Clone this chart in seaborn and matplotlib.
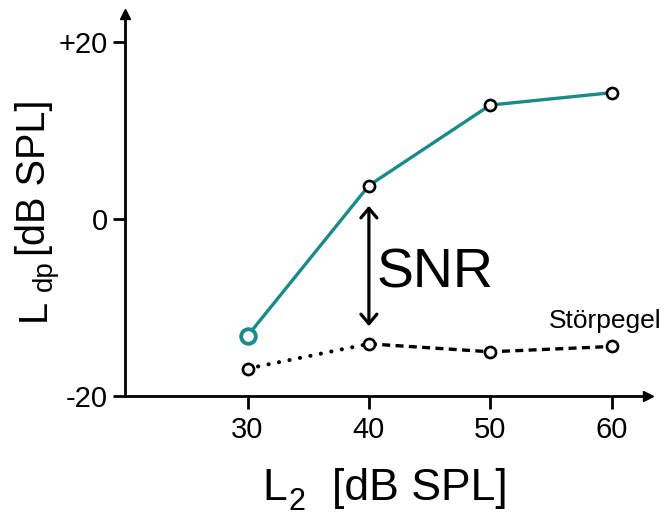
import matplotlib
matplotlib.use("Agg")
import matplotlib.pyplot as plt
import seaborn as sns
import pandas as pd

# Stimulus level L2 and the measured DPOAE level / noise floor (dB SPL)
l2_levels = [30, 40, 50, 60]
dp_level = [-13.2, 3.8, 12.9, 14.3]
noise_level = [-16.9, -14.1, -15.0, -14.4]

x_ticks = [30, 40, 50, 60]
y_ticks = [-20, 0, 20]
y_tick_labels = ["-20", "0", "+20"]

# SNR bracket drawn at L2 = 40 dB
snr_x = 40
snr_top = 1.5
snr_bottom = -12.1

sns.set_style("white")
plt.rcParams["font.family"] = ["Liberation Sans", "DejaVu Sans"]
plt.rcParams["text.color"] = "black"
plt.rcParams["axes.labelcolor"] = "black"
plt.rcParams["xtick.color"] = "black"
plt.rcParams["ytick.color"] = "black"

TEAL = "#1a8a8b"
W, H = 667, 517
fig = plt.figure(figsize=(W / 100, H / 100), dpi=100)


def fx(px):
    return px / W


def fy(py):
    return 1 - py / H


ax = fig.add_axes([fx(125), fy(396), fx(648) - fx(125), fy(14) - fy(396)])
ax.set_xlim(19.9, 63.0)
ax.set_ylim(-20, 23.2)

dp = pd.DataFrame({"L2": l2_levels, "Ldp": dp_level})
noise = pd.DataFrame({"L2": l2_levels, "Ldp": noise_level})

# DPOAE growth curve
sns.lineplot(data=dp, x="L2", y="Ldp", color=TEAL, lw=2.4, ax=ax, zorder=2)

# noise floor: dotted first segment, dashed for the rest
sns.lineplot(data=noise.iloc[:2], x="L2", y="Ldp", color="black", lw=2.9,
             linestyle=(0, (0.05, 2.6)), dash_capstyle="round", ax=ax, zorder=2)
sns.lineplot(data=noise.iloc[1:], x="L2", y="Ldp", color="black", lw=2.4,
             linestyle=(0, (2.4, 1.6)), ax=ax, zorder=2)

# open circle markers
sns.scatterplot(data=dp.iloc[1:], x="L2", y="Ldp", s=64, color="white",
                edgecolor="black", linewidth=1.9, ax=ax, zorder=4)
sns.scatterplot(data=dp.iloc[:1], x="L2", y="Ldp", s=110, color="white",
                edgecolor=TEAL, linewidth=2.8, ax=ax, zorder=4)
sns.scatterplot(data=noise, x="L2", y="Ldp", s=64, color="white",
                edgecolor="black", linewidth=1.9, ax=ax, zorder=4)

ax.set_xlabel("")
ax.set_ylabel("")

# axes with arrow heads
sns.despine(ax=ax)
for side in ("left", "bottom"):
    ax.spines[side].set_linewidth(2.0)
    ax.spines[side].set_color("black")
ax.plot([0], [1], marker="^", ms=7.5, color="black", transform=ax.transAxes,
        clip_on=False, zorder=5)
ax.plot([1], [0], marker=">", ms=7.5, color="black", transform=ax.transAxes,
        clip_on=False, zorder=5)

ax.set_xticks(x_ticks)
ax.set_xticklabels([str(v) for v in x_ticks])
ax.set_yticks(y_ticks)
ax.set_yticklabels(y_tick_labels)
ax.tick_params(axis="x", direction="out", length=9.4, width=2.0, pad=5,
               labelsize=21, colors="black", bottom=True)
ax.tick_params(axis="y", direction="out", length=8.6, width=2.0, pad=3.6,
               labelsize=21, colors="black", left=True)
ax.grid(False)

# SNR double arrow and label
ax.annotate("", xy=(snr_x, snr_top), xytext=(snr_x, snr_bottom),
            arrowprops=dict(arrowstyle="<->,head_length=0.38,head_width=0.32",
                            mutation_scale=18, lw=2.3, color="black",
                            shrinkA=0, shrinkB=0), zorder=3)
ax.text(40.62, -7.76, "SNR", fontsize=40, ha="left", va="baseline", color="black")
ax.text(54.82, -12.28, "Störpegel", fontsize=19, ha="left", va="baseline",
        color="black")

# x axis title: L2 [dB SPL]
fig.text(fx(262), fy(500), "L", fontsize=32, ha="left", va="baseline")
fig.text(fx(289), fy(510), "2", fontsize=22, ha="left", va="baseline")
fig.text(fx(332), fy(500), "[dB SPL]", fontsize=32, ha="left", va="baseline")

# y axis title: Ldp [dB SPL]
fig.text(fx(45), fy(321), "L", fontsize=28.5, rotation=90, rotation_mode="anchor",
         ha="left", va="baseline")
fig.text(fx(52), fy(291), "dp", fontsize=20, rotation=90, rotation_mode="anchor",
         ha="left", va="baseline")
fig.text(fx(45), fy(256), "[dB SPL]", fontsize=28.5, rotation=90,
         rotation_mode="anchor", ha="left", va="baseline")

fig.savefig("out.png", dpi=100, facecolor="white")
